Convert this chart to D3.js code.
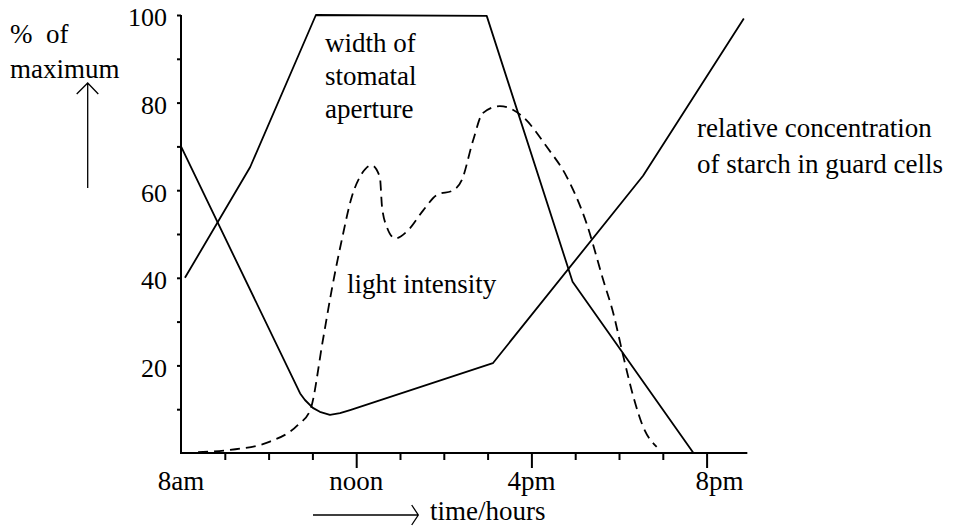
<!DOCTYPE html>
<html>
<head>
<meta charset="utf-8">
<script src="https://cdn.jsdelivr.net/npm/d3@7/dist/d3.min.js"></script>
<style>
  html, body { margin: 0; padding: 0; background: #fff; }
  svg text { font-family: "Liberation Serif", "Times New Roman", Tinos, Times, "DejaVu Serif", serif; fill: #000; }
</style>
</head>
<body>
<svg id="chart" width="966" height="532"></svg>
<script>
/* ---------- data (hours of day, % of maximum) ---------- */
const apertureHours  = [8.09, 9.58, 11.08, 14.98, 16.94, 19.70];
const apertureValues = [40, 65.3, 100, 99.8, 39.1, 0];

const starchHours  = [8.0, 10.72, 10.83, 11.01, 11.17, 11.40, 11.63, 11.86, 15.12, 18.55, 20.85];
const starchValues = [70, 13.6, 12.1, 10.3, 9.4, 8.7, 9.1, 9.8, 20.5, 63.3, 99.2];

const lightHours  = [8.39, 9.12, 10.03, 10.67, 10.95, 11.24, 11.44, 11.67, 11.90, 12.13, 12.35, 12.54,
                     12.59, 12.70, 12.89, 13.19, 13.53, 13.84, 14.22, 14.41, 14.67, 14.89, 15.28, 15.81,
                     16.35, 16.81, 17.26, 17.64, 17.87, 18.10, 18.33, 18.55, 18.86];
const lightValues = [0.2, 0.7, 2.6, 6.4, 9.8, 25.8, 37.2, 48.6, 58.5, 63.8, 65.7, 63.0,
                     56.2, 51.6, 49.0, 50.9, 55.4, 58.9, 60.0, 62.3, 71.4, 77.6, 79.2, 76.7,
                     69.9, 63.0, 52.4, 39.5, 31.9, 22.0, 12.8, 6.0, 1.4];

const xTickHours   = [9, 10, 11, 12, 13, 14, 15, 16, 17, 18, 19, 20];
const xMajorHours  = [12, 16, 20];
const xLabelHours  = [8, 12, 16, 20];
const xLabels      = ['8am', 'noon', '4pm', '8pm'];
const yTickValues  = [10, 20, 30, 40, 50, 60, 70, 80, 90, 100];
const yLabelValues = [20, 40, 60, 80, 100];
const xAxisEndHour = 20.93;

/* ---------- scales ---------- */
const svg = d3.select('#chart');
const x = d3.scaleLinear().domain([8, 20]).range([181, 706.6]);
const y = d3.scaleLinear().domain([0, 100]).range([453, 15]);
const FS = 27;
const SERIF = '"Liberation Serif", "Times New Roman", Tinos, Times, "DejaVu Serif", serif';

/* ---------- axes ---------- */
const yAxis = d3.axisLeft(y).tickValues(yTickValues).tickSizeInner(4).tickSizeOuter(0).tickPadding(10)
  .tickFormat(d => yLabelValues.includes(d) ? d : '');
const gy = svg.append('g').attr('transform', `translate(${x(8)},0)`).call(yAxis)
  .attr('font-family', SERIF);
gy.select('.domain').remove();
gy.append('line').attr('x1', 0).attr('x2', 0).attr('y1', y(0)).attr('y2', y(100))
  .attr('stroke', '#000').attr('stroke-width', 2);
gy.selectAll('.tick line').attr('stroke', '#000').attr('stroke-width', 2);
gy.selectAll('.tick text').attr('font-size', (FS - 1) + 'px').attr('dy', '0.42em').attr('fill', '#000');

const xAxis = d3.axisBottom(x).tickValues(xTickHours).tickSizeInner(7).tickSizeOuter(0).tickFormat('');
const gx = svg.append('g').attr('transform', `translate(0,${y(0)})`).call(xAxis);
gx.select('.domain').remove();
gx.append('line').attr('x1', x(8) - 1).attr('x2', x(xAxisEndHour)).attr('y1', 0).attr('y2', 0)
  .attr('stroke', '#000').attr('stroke-width', 2);
gx.selectAll('.tick line').attr('stroke', '#000').attr('stroke-width', 2)
  .attr('y2', d => xMajorHours.includes(d) ? 15 : 7);

svg.append('g').attr('font-family', SERIF).selectAll('text').data(xLabelHours).join('text')
  .attr('x', d => x(d)).attr('y', y(0) + 37)
  .attr('dx', (d, i) => i === xLabelHours.length - 1 ? 13 : 0)
  .attr('text-anchor', 'middle').attr('font-size', FS + 'px')
  .text((d, i) => xLabels[i]);

/* ---------- curves ---------- */
function series(hs, vs) { return hs.map((h, i) => [h, vs[i]]); }
const straight = d3.line().x(d => x(d[0])).y(d => y(d[1]));
const smooth   = d3.line().x(d => x(d[0])).y(d => y(d[1])).curve(d3.curveMonotoneX);

svg.append('path').attr('d', straight(series(apertureHours, apertureValues)))
  .attr('fill', 'none').attr('stroke', '#000').attr('stroke-width', 1.8).attr('stroke-linejoin', 'round');
svg.append('path').attr('d', straight(series(starchHours, starchValues)))
  .attr('fill', 'none').attr('stroke', '#000').attr('stroke-width', 1.8).attr('stroke-linejoin', 'round');
svg.append('path').attr('d', smooth(series(lightHours, lightValues)))
  .attr('fill', 'none').attr('stroke', '#000').attr('stroke-width', 1.8).attr('stroke-dasharray', '10,6');

/* ---------- annotations ---------- */
function label(lines, px, py, lh) {
  const t = svg.append('text').attr('font-size', FS + 'px').attr('font-family', SERIF);
  lines.forEach((s, i) => t.append('tspan').attr('x', px).attr('y', py + i * lh).text(s));
}
label(['width of', 'stomatal', 'aperture'], 325, 52, 33);
label(['light intensity'], 347, 293, 0);
label(['relative concentration', 'of starch in guard cells'], 697, 137, 36);
label(['%\u00a0 of', 'maximum'], 10, 43, 35);
label(['time/hours'], 430, 520, 0);

// axis direction arrows
svg.append('path').attr('d', 'M87.7,188 V83 M76.7,94 L87.7,83 L98.3,94')
  .attr('fill', 'none').attr('stroke', '#000').attr('stroke-width', 1.3);
svg.append('path').attr('d', 'M313,515 H418.3 M411.7,505 L418.3,515 L411.7,525')
  .attr('fill', 'none').attr('stroke', '#000').attr('stroke-width', 1.3);
</script>
</body>
</html>
